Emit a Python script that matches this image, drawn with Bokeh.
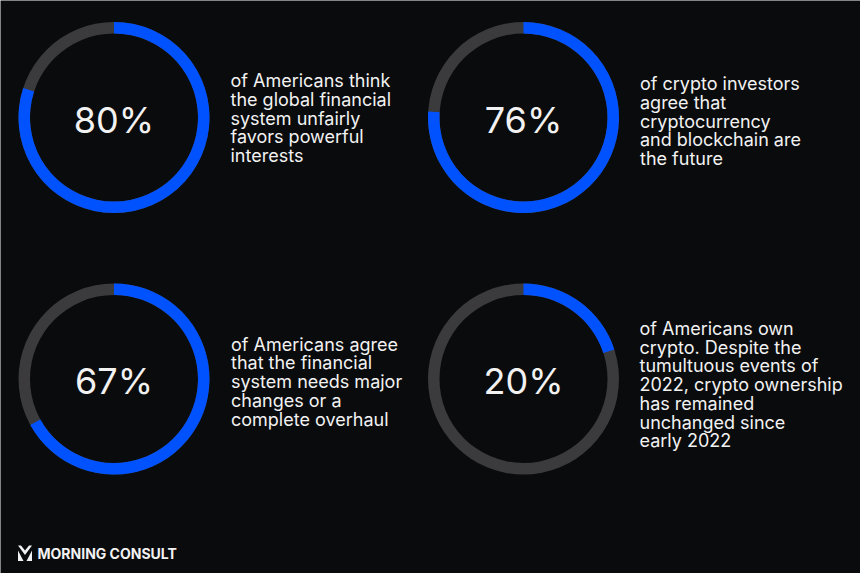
import math
from bokeh.plotting import figure
from bokeh.models import Range1d
from bokeh.embed import file_html
from bokeh.resources import INLINE
from bokeh.core.properties import value

# ---- data ----
values = [80, 76, 67, 20]
pct_labels = ["80%", "76%", "67%", "20%"]
desc_lines = [
    ["of Americans think", "the global financial", "system unfairly", "favors powerful", "interests"],
    ["of crypto investors", "agree that", "cryptocurrency", "and blockchain are", "the future"],
    ["of Americans agree", "that the financial", "system needs major", "changes or a", "complete overhaul"],
    ["of Americans own", "crypto. Despite the", "tumultuous events of", "2022, crypto ownership",
     "has remained", "unchanged since", "early 2022"],
]
brand = "MORNING CONSULT"

# ---- layout / style (image pixel coords) ----
W, H = 860, 573
BG = "#0a0b0d"
BLUE = "#0052ff"
GRAY = "#3b3b3d"
WHITE = "#f2f2f2"

cx_img = [113.5, 523.0, 113.5, 523.0]
cy_img = [117.0, 117.0, 378.5, 378.5]
text_x_img = [230.0, 639.5, 230.5, 639.0]
text_cy_img = [118.5, 121.5, 382.0, 385.0]
R_OUT, R_IN = 95.5, 84.0
LINE = 18.75


def Y(y_img):
    return H - y_img


p = figure(width=W, height=H,
           x_range=Range1d(0, W), y_range=Range1d(0, H),
           output_backend="svg", toolbar_location=None,
           x_axis_location=None, y_axis_location=None,
           min_border=0, background_fill_color=BG, border_fill_color=BG,
           outline_line_color=None)
p.grid.visible = False

cx = cx_img
cy = [Y(v) for v in cy_img]

# gray track
p.annulus(x=cx, y=cy, inner_radius=R_IN, outer_radius=R_OUT,
          fill_color=GRAY, line_color=None)
# blue share, clockwise from 12 o'clock
starts = [math.pi / 2 - v / 100 * 2 * math.pi for v in values]
ends = [math.pi / 2] * len(values)
p.annular_wedge(x=cx, y=cy, inner_radius=R_IN, outer_radius=R_OUT,
                start_angle=starts, end_angle=ends, direction="anticlock",
                fill_color=BLUE, line_color=None)

# percentages
p.text(x=cx, y=[Y(v + 2) for v in cy_img], text=pct_labels,
       text_align="center", text_baseline="middle",
       text_font=value("Inter"), text_font_size="36px", text_color=WHITE)

# descriptions
lx, ly, lt = [], [], []
for i, lines in enumerate(desc_lines):
    n = len(lines)
    for j, t in enumerate(lines):
        lx.append(text_x_img[i])
        ly.append(Y(text_cy_img[i] + (j - (n - 1) / 2) * LINE - 1))
        lt.append(t)
p.text(x=lx, y=ly, text=lt, text_align="left", text_baseline="middle",
       text_font=value("Inter"), text_font_size="18px", text_color=WHITE)

# brand
p.text(x=[37], y=[Y(552.5)], text=[brand], text_align="left", text_baseline="middle",
       text_font=value("Inter"), text_font_size="14px", text_font_style="bold",
       text_color=WHITE)
logo_xs = [[17.5, 20.5, 24.5, 28.5, 31.5, 24.5],
           [17.5, 17.5, 23.0],
           [31.5, 31.5, 26.0]]
logo_ys = [[Y(v) for v in [545, 545, 550, 545, 545, 554.5]],
           [Y(v) for v in [550, 560.5, 560.5]],
           [Y(v) for v in [550, 560.5, 560.5]]]
p.patches(xs=logo_xs, ys=logo_ys, fill_color=WHITE, line_color=None)

open("out.html", "w").write(file_html(p, INLINE))
